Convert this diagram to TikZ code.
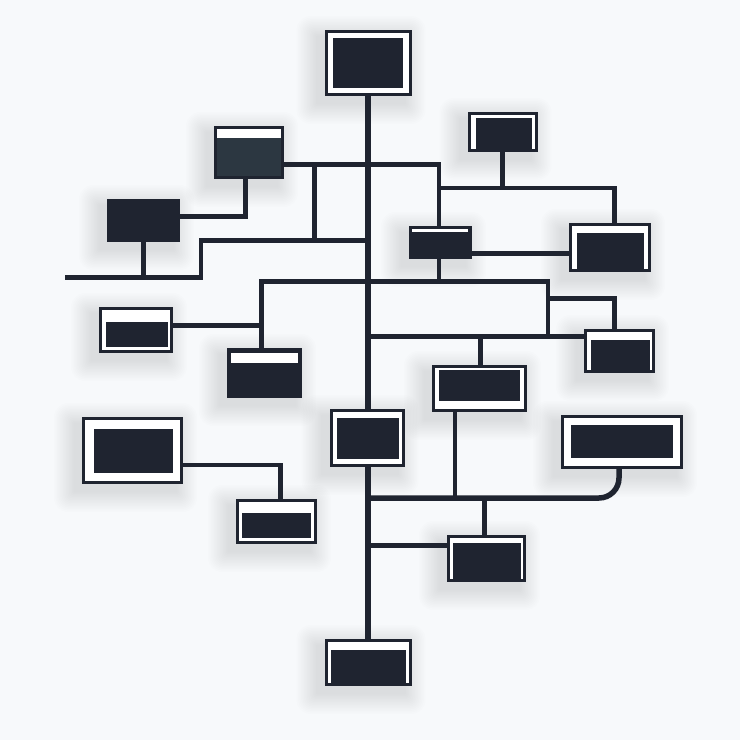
\documentclass[tikz,border=0pt]{standalone}
\usetikzlibrary{calc}
\definecolor{ink}{HTML}{1F2430}
\definecolor{slate}{HTML}{2C3741}
\definecolor{bgcol}{HTML}{F7F9FB}
\pgfdeclarelayer{bglayer}
\pgfdeclarelayer{shadowlayer}
\pgfdeclarelayer{linelayer}
\pgfsetlayers{bglayer,shadowlayer,linelayer,main}
\newcommand\innerfill[5]{\fill[ink] ([shift={(#2,#3)}]#1.north west) rectangle ([shift={(-#4,-#5)}]#1.south east);}
\newcommand\whitestripe[5]{\fill[white] ([shift={(#2,#3)}]#1.north west) rectangle ([shift={(-#4,#3+#5)}]#1.north east);}
\begin{document}
\begin{tikzpicture}[x=1pt,y=-1pt,
  box/.style={draw=ink, line width=3pt, fill=white, inner sep=0pt, outer sep=1.5pt, rectangle},
  solidbox/.style={box, fill=ink},
  slatebox/.style={box, fill=slate},
  conn/.style={draw=ink, line width=4.5pt, line cap=rect, line join=miter},
  trunkline/.style={draw=ink, line width=6.5pt, line cap=rect},
  curveline/.style={draw=ink, line width=5.5pt, line cap=rect, rounded corners=20pt}]
\begin{pgfonlayer}{bglayer}
\fill[bgcol] (0,0) rectangle (740,740);
\end{pgfonlayer}
\useasboundingbox (0,0) rectangle (740,740);

% boxes (outer W x H, minimum = outer - 3)
\node[box, minimum width=84pt, minimum height=63pt] (T) at (368,63) {};
\node[slatebox, minimum width=67pt, minimum height=50pt] (A) at (249,152.5) {};
\node[solidbox, minimum width=70pt, minimum height=40pt] (B) at (143.5,220.5) {};
\node[box, minimum width=67pt, minimum height=37pt] (C) at (502.5,132) {};
\node[solidbox, minimum width=60pt, minimum height=30pt] (D) at (440.5,242.5) {};
\node[box, minimum width=79pt, minimum height=46pt] (E) at (610,247.5) {};
\node[box, minimum width=68pt, minimum height=41pt] (F) at (619.5,351) {};
\node[box, minimum width=92pt, minimum height=44pt] (G) at (479.5,388.5) {};
\node[box, minimum width=71pt, minimum height=43pt] (H) at (136,330) {};
\node[solidbox, minimum width=72pt, minimum height=47pt] (I) at (264.5,373) {};
\node[box, minimum width=72pt, minimum height=55pt] (J) at (367,438) {};
\node[box, minimum width=98pt, minimum height=64pt] (K) at (132.5,450.5) {};
\node[box, minimum width=78pt, minimum height=42pt] (L) at (276.5,521.5) {};
\node[box, minimum width=119pt, minimum height=51pt] (M) at (622,442) {};
\node[box, minimum width=76pt, minimum height=44pt] (N) at (486.5,558.5) {};
\node[box, minimum width=84pt, minimum height=44pt] (O) at (368,662.5) {};

% inner panels
\innerfill{T}{8}{8}{9}{8}
\whitestripe{A}{3}{3}{3}{9}
\innerfill{C}{8}{6}{6}{2}
\whitestripe{D}{3}{3}{4}{3}
\innerfill{E}{8}{10}{7}{2}
\innerfill{F}{7}{11}{5}{2}
\innerfill{G}{7}{5}{7}{11}
\innerfill{H}{7}{15}{5}{6}
\whitestripe{I}{4}{5}{4}{10}
\innerfill{J}{7}{9}{6}{8}
\innerfill{K}{12}{12}{10}{11}
\innerfill{L}{6}{14}{6}{6}
\innerfill{M}{10}{10}{10}{11}
\innerfill{N}{6}{8}{5}{2}
\innerfill{O}{6}{11}{6}{3}

% soft shadows
\begin{pgfonlayer}{shadowlayer}
\foreach \n in {T,A,B,C,D,E,F,G,H,I,J,K,L,M,N,O}{
  \foreach \s in {1,...,14}{
    \fill[black, opacity=0.007, rounded corners=\s pt]
      ([shift={(-7-\s*1.5, 7-\s*1.5)}]\n.north west) rectangle ([shift={(-7+\s*1.5, 7+\s*1.5)}]\n.south east);
  }
}
\end{pgfonlayer}

% junction coordinates
\coordinate (a1) at (439,164.5);
\coordinate (a2) at (314.5,164.5);
\coordinate (a3) at (314.5,240.5);
\coordinate (a4) at (201,240.5);
\coordinate (a5) at (201,277.5);
\coordinate (a6) at (67,277.5);
\coordinate (a7) at (245.5,216.5);
\coordinate (c1) at (439,188);
\coordinate (c2) at (614.5,188);
\coordinate (d1) at (472,253.5);
\coordinate (d2) at (439,281.5);
\coordinate (i1) at (261.5,281.5);
\coordinate (f1) at (548,281.5);
\coordinate (f2) at (548,336.5);
\coordinate (f3) at (548,298.5);
\coordinate (f4) at (614.5,298.5);
\coordinate (g0) at (368,336.5);
\coordinate (g1) at (480.5,336.5);
\coordinate (h1) at (261.5,325.5);
\coordinate (k1) at (280.5,465);
\coordinate (m0) at (368,498);
\coordinate (m1) at (619,498);
\coordinate (g2) at (455,498);
\coordinate (n1) at (484.5,498);
\coordinate (n0) at (368,545.5);

\begin{pgfonlayer}{linelayer}
\draw[trunkline] (T.south) -- (O.north);
\draw[conn] (A.east |- a1) -- (a1) -- (a1 |- D.north);
\draw[conn] (a2) -- (a3);
\draw[conn] (a4) -- (a4 -| T.south);
\draw[conn] (a6) -- (a5) -- (a4);
\draw[conn] (B.south) -- (B.south |- a6);
\draw[conn] (B.east |- a7) -- (a7) -- (a7 |- A.south);
\draw[conn] (C.south) -- (C.south |- c1);
\draw[conn] (c1) -- (c2) -- (c2 |- E.north);
\draw[conn] (d1) -- (d1 -| E.west);
\draw[conn] (a1 |- D.south) -- (d2);
\draw[conn] (i1) -- (f1) -- (f2);
\draw[conn] (f3) -- (f4) -- (f4 |- F.north);
\draw[conn] (g0) -- (g0 -| F.west);
\draw[conn] (g1) -- (g1 |- G.north);
\draw[conn] (i1) -- (i1 |- I.north);
\draw[conn] (H.east |- h1) -- (h1);
\draw[conn] (K.east |- k1) -- (k1) -- (k1 |- L.north);
\draw[curveline] (m0) -- (m1) -- (m1 |- M.south);
\draw[conn] (g2 |- G.south) -- (g2);
\draw[conn] (n1) -- (n1 |- N.north);
\draw[conn] (n0) -- (n0 -| N.west);
\end{pgfonlayer}
\end{tikzpicture}
\end{document}
